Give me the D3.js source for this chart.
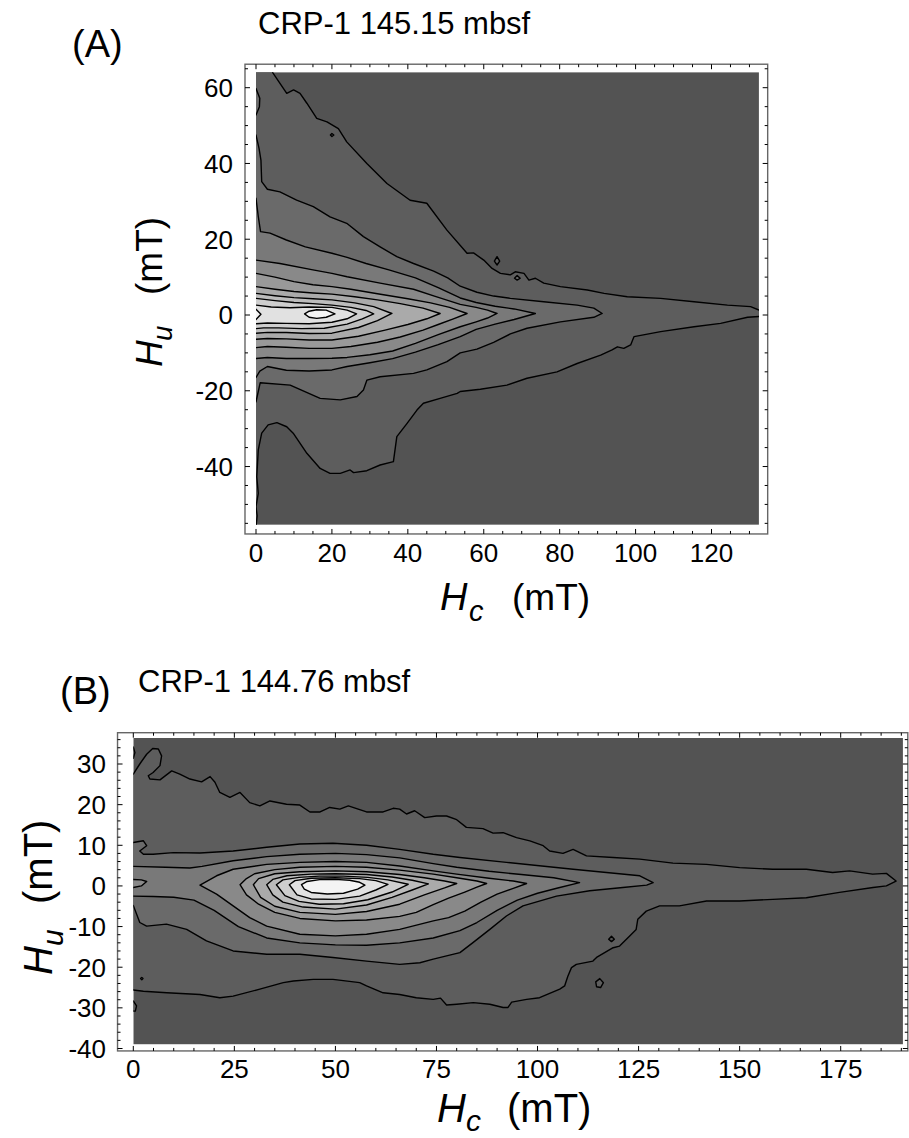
<!DOCTYPE html>
<html><head><meta charset="utf-8">
<script src="https://cdn.jsdelivr.net/npm/d3@7"></script>
<style>
body{margin:0;background:#fff}
svg{display:block}
text{font-family:"Liberation Sans",Arial,Helvetica,sans-serif;fill:#000}
</style>
</head><body>
<svg id="chart" width="909" height="1138"></svg>
<script>
// ---------------- DATA ----------------
// Panel A: CRP-1 145.15 mbsf ; contour polygons [Hc (mT), Hu (mT)], outer -> inner
const A_xTicks = [0,20,40,60,80,100,120];
const A_yTicks = [-40,-20,0,20,40,60];
const A_c1 = [[-3,70],[4.6,70],[4.4,64],[8.1,58.5],[9.9,59.4],[11.6,58.5],[13.4,55.9],[16,51.9],[18.7,51],[21.7,49.2],[23.9,45.7],[29.2,40],[34.5,34.7],[40.6,30.3],[45,29.5],[50.3,22.4],[55.6,16.3],[57.3,16.4],[60,14.5],[62.2,12.3],[64.4,11],[67,10.6],[68.3,11.4],[70.6,11],[71.9,9.2],[73.6,9.7],[75.8,8.4],[80.2,7.5],[87.3,6.6],[91.7,5.7],[97.8,4.8],[106.6,4.4],[115.4,3.5],[124.2,2.6],[130.3,2.2],[132.5,1.3],[136,1.3],[136,-0.4],[132.5,-0.4],[129.5,-0.6],[122.4,-2.2],[115.4,-3.1],[106.6,-4.4],[99.6,-5.7],[98.7,-7.9],[96.9,-8.8],[95.2,-8.4],[93.8,-9.2],[90.8,-10.6],[84.6,-12.8],[79.3,-15],[71.4,-16.7],[66.1,-18.5],[59.1,-19.6],[53.8,-20.2],[53,-20.7],[48.5,-22],[44.1,-23.3],[42.4,-25.1],[39.8,-28.6],[37.1,-32.1],[36.2,-38.7],[32.7,-39.6],[29.2,-41.1],[25.7,-41.6],[24.8,-40.9],[22.2,-41.8],[19.5,-41.8],[16.9,-40.5],[13.4,-36.5],[9.8,-31.2],[8.1,-29.5],[5.5,-28.4],[3.2,-29],[1.5,-31.2],[0.6,-35.6],[0.2,-42.7],[0.6,-47.1],[0,-50.6],[0.3,-53],[-0.2,-58],[-3,-58]];
const A_c2 = [[-3,47.5],[0,47.5],[0.8,44],[1.3,40.9],[1.5,35.2],[3,33.2],[6.3,32.5],[10.7,30.3],[15.1,28.6],[19.5,25.9],[23.9,24.2],[28.3,20.7],[32.7,18],[37.1,15.4],[41.5,13.6],[46.8,11.6],[50.5,9.8],[53.8,7.6],[58.2,6],[62.6,5],[67,4.4],[75.8,3.5],[84.6,2.6],[89,1.8],[91.2,0.4],[89,-0.6],[80.2,-1.8],[71.4,-3.5],[67,-5],[62.6,-7.2],[58.2,-9],[53.8,-10],[50.3,-12.3],[45,-14.5],[41.5,-15.4],[32.7,-16.3],[29.2,-17.2],[28.3,-19.8],[26.6,-21.5],[22.2,-22.4],[16.9,-22],[9,-18.5],[1.1,-17.9],[0,-22.9],[-3,-22.9]];
const A_c3 = [[-3,30.8],[0,30.8],[0.6,26],[1.2,22],[3.7,21.6],[8,19.8],[13,18],[20,16.3],[24,15.2],[29,13.6],[35,11.9],[42,9.8],[48,7.2],[53.8,4.5],[58,3.3],[63,2.3],[68,1.6],[73.6,0.4],[68,-1.2],[63,-2.4],[58,-3.8],[53.8,-5.7],[48,-7.8],[42,-9.8],[36,-11.5],[30,-12.6],[24,-13.6],[20,-14.5],[14,-14.8],[8,-14.6],[3,-13.6],[1,-14.8],[0,-16.5],[-3,-16.5]];
const A_c4 = [[-3,14.5],[0,14.5],[6.3,13.6],[15,11.9],[20,11],[24,10.1],[32.7,8.4],[41.5,6.8],[47,5],[53.8,2.8],[58,2],[61,1.3],[63.5,0.4],[61,-0.8],[58,-1.8],[53.8,-3.1],[48,-5.2],[42,-7.5],[36,-9.5],[30,-10.5],[24,-11.2],[20,-11.4],[14,-11.5],[8,-11.5],[3,-11.2],[0,-11.5],[-3,-11.5]];
const A_c5 = [[-3,11],[0,11],[5,10],[10,8.8],[15,8],[20,7.5],[25,6.8],[32,5.6],[40,4.3],[46,3.2],[51,2],[55.6,0.4],[52,-1],[48,-2.5],[44,-4],[38,-5.8],[32,-7.2],[25,-8.3],[20,-8.8],[14,-8.8],[8,-8.5],[3,-8.3],[0,-8.6],[-3,-8.6]];
const A_c6 = [[-3,7.5],[0,7.5],[5,6.8],[10,6.2],[15,5.8],[20,5.5],[26,4.8],[32,4],[38,3],[44,1.8],[48.5,0.4],[45,-1],[40,-2.5],[34,-4],[27,-5.6],[20,-6.6],[14,-6.6],[8,-6.3],[3,-6.2],[0,-6.4],[-3,-6.4]];
const A_c7 = [[-3,5.7],[0,5.7],[5,5.1],[10,4.6],[15,4.3],[20,4],[26,3.2],[31,2.2],[35.8,0.4],[32,-1.5],[27,-3.3],[20,-4.8],[14,-4.9],[8,-4.6],[3,-4.6],[0,-4.8],[-3,-4.8]];
const A_c8 = [[-3,4.4],[0,4.4],[5,3.8],[10,3.3],[15,3],[20,2.6],[25,2],[29,1.2],[31,0.3],[28,-1],[24,-2.4],[18,-3.5],[12,-3.6],[6,-3.4],[2,-3.4],[0,-3.6],[-3,-3.6]];
const A_c9 = [[-3,2.6],[0,2.6],[4,2.1],[9,1.9],[14,2.1],[20,2],[24,1.3],[26.5,0.3],[24,-1],[20,-1.9],[14,-2.3],[8,-2.2],[3,-2.1],[0,-2.3],[-3,-2.3]];
const A_c10 = [[12.8,0.3],[14,1],[16,1.4],[18.5,1.3],[20.8,0.3],[18.5,-0.6],[16,-0.9],[14,-0.6]];
const A_edgeNotch = [[-3,1.5],[0,1.5],[1.3,0.2],[0,-1.2],[-3,-1.2]];
const A_islandTop = [[-3,59.8],[0,59.8],[1,57.2],[0.9,55],[0,52.8],[-3,52.8]];
const A_dot = [[19.6,47.5],[20,47.9],[20.5,47.5],[20,47.1]];
const A_isl1 = [[62.8,14.2],[63.5,15.4],[64.2,14.2],[63.5,13.2]];
const A_isl2 = [[68.1,9.7],[68.8,10.4],[69.6,9.7],[68.8,9.2]];

// Panel B: CRP-1 144.76 mbsf
const B_xTicks = [0,25,50,75,100,125,150,175];
const B_yTicks = [-40,-30,-20,-10,0,10,20,30];
const B_c1 = [[-4,27.5],[0,27.5],[1.6,30],[3.3,32.4],[4.8,33.8],[6.2,33.7],[7,32],[6.6,29.6],[4.9,27.9],[3.7,27.1],[4.1,26.3],[6.6,26.1],[9.5,28.3],[11.5,27.5],[14,26.3],[16.9,25.6],[19,26.9],[20.2,25.5],[21.4,23],[23.9,21.8],[26.4,23],[28.8,20.5],[31.3,19.7],[33.8,20.9],[37.9,20.1],[41.2,19.9],[43.7,18.2],[46.2,18.2],[48.6,19.3],[51.1,18.9],[53.2,19.7],[57.7,18.2],[61.8,18.2],[64.3,19.1],[65.9,18.9],[67.6,17.7],[69.6,18.5],[72.1,16.8],[75,17.2],[77.5,17.2],[80,16.3],[82.4,14.4],[86.5,14.1],[89,13],[91.5,13.1],[94.8,11.9],[98.1,11.1],[101.4,9.9],[103,8.6],[106.3,8],[108.8,9],[112.1,7.4],[118.7,7],[125.3,6.6],[133.5,5.6],[141.8,5.3],[150,4.5],[158.2,4.1],[166.5,4.1],[173,3.3],[177.2,3.7],[182.9,2.9],[186.3,3.1],[188.7,1.2],[186.3,0],[183,-0.4],[174.7,-1.6],[166.5,-2.9],[158.2,-3.3],[150,-3.7],[141.8,-3.7],[135.1,-4.9],[130.2,-4.9],[126.9,-6.2],[124.8,-8.2],[124.4,-10.7],[122.8,-12.3],[120.3,-14.8],[118.7,-15.2],[114.6,-17.6],[113.7,-18.5],[109.6,-19.3],[108.4,-20.1],[107.5,-22.2],[106.7,-24.6],[105.5,-25.4],[100.5,-27.5],[97.3,-27.9],[93.6,-28.6],[92.7,-29.9],[91.5,-29.9],[88.2,-29.1],[84.1,-28.7],[80,-29.1],[77.5,-29.3],[76,-27.6],[74.2,-27.9],[70,-27.5],[65.9,-26.7],[61.8,-26.3],[57.7,-24.6],[56,-23.8],[49.4,-23],[44.5,-23],[39.6,-23.4],[37.1,-23.8],[31.3,-25.4],[24.7,-27.1],[21.4,-27.5],[16.5,-26.7],[8.3,-26.3],[2.5,-25.9],[0,-25.6],[-4,-25.6]];
const B_c2 = [[-4,10.7],[0,10.7],[2.5,11.1],[3.3,9.9],[1.6,8.6],[2.5,7.8],[4.9,7.8],[9.9,8.2],[16.5,8.1],[24.7,8.6],[33,9.5],[41.2,10.3],[49.4,10.5],[57.7,10],[65.9,9],[74.2,7.8],[80.8,7],[92.3,5.8],[108.8,4.1],[125.3,2.5],[128.6,0.8],[127,0.2],[121.1,-0.4],[112.9,-1.2],[104.7,-2.5],[96.4,-4.9],[92.3,-7.4],[88.2,-10.7],[84.1,-13.9],[80.8,-16.4],[74.2,-18],[70.9,-18.9],[65.9,-19.3],[57.7,-18.5],[49.4,-17.6],[41.2,-16.8],[33,-16.8],[24.7,-16],[18.1,-13.5],[13.2,-10.7],[8.2,-9.4],[3.3,-9.9],[1.6,-9],[0,-4.8],[-4,-4.8]];
const B_c3 = [[-4,4.8],[0,4.8],[8,4.6],[14,4.4],[17,4.8],[24.7,6.2],[33,7.2],[41.2,7.8],[50,8],[57.7,7.7],[65.9,6.9],[74.2,5.5],[80,4.6],[88,3.6],[96,2.8],[104,2],[110.4,0.8],[105,-0.5],[100,-1.8],[95,-3.5],[90,-6],[85,-9],[80.8,-11],[74.2,-12.8],[65.9,-14],[57.7,-14.6],[50,-14.5],[41.2,-14],[33,-12.8],[26,-10],[20,-6],[15,-3.5],[10,-2.8],[5,-2.6],[0,-2.5],[-4,-2.5]];
const B_c4 = [[16.5,0.2],[20.6,2.5],[24.7,4.1],[33,5.3],[41.2,5.8],[50,6],[57.7,5.8],[65.9,4.9],[74.2,3.7],[80,2.9],[88,1.9],[94,1.2],[97.3,0.6],[94,-0.6],[90,-2],[86,-4],[82,-6.2],[78,-7.8],[74.2,-8.6],[65.9,-10.7],[57.7,-11.9],[50,-12.3],[41.2,-11.9],[33,-9.9],[28.8,-7.8],[24.7,-4.9],[20.6,-2]];
const B_c5 = [[26.4,0.3],[28,1.8],[30,3],[35,4],[41.2,4.6],[50,4.8],[57.7,4.6],[65.9,3.9],[74.2,2.9],[80,2],[85,1.2],[87.4,0.6],[85,-0.3],[82,-1.5],[78,-3],[74.2,-4.6],[70,-6.5],[65.9,-7.5],[57.7,-8.4],[50,-8.6],[41.2,-8],[35,-6.5],[31,-4.5],[28,-2.2]];
const B_c6 = [[29.7,0.3],[31,1.8],[35,3],[41.2,3.5],[50,3.7],[57.7,3.5],[65.9,2.8],[72,2],[77,1.2],[80,0.6],[77,-0.5],[72,-2.2],[65.9,-4.5],[57.7,-6.3],[50,-7],[41.2,-6.5],[35,-5],[31.5,-2.8]];
const B_c7 = [[33,0.3],[34.5,1.6],[38,2.5],[44,2.9],[50,3],[57.7,2.8],[64,2.2],[69,1.4],[73,0.5],[69,-1],[64,-2.8],[57.7,-4.7],[50,-5.7],[42,-5.2],[37,-4],[34.5,-2.2]];
const B_c8 = [[35.4,0.3],[37,1.5],[41,2.1],[46,2.4],[52,2.4],[58,2.1],[63,1.5],[68,0.4],[64,-1.5],[58,-3.4],[52,-4.4],[46,-4.5],[41,-3.8],[37.5,-2.4]];
const B_c9 = [[38.6,0.3],[40,1.3],[44,1.9],[50,2],[56,1.8],[60,1.3],[63,0.4],[60,-1],[56,-2.5],[50,-3.3],[44,-3.2],[40.5,-2.2]];
const B_c10 = [[41.6,0.3],[43,1.1],[46.5,1.6],[50,1.6],[53.5,1.4],[56,0.9],[57.3,0.2],[55.5,-0.8],[52,-1.8],[48,-2],[44,-1.6],[42.3,-0.8]];
const B_islandTop = [[-4,34.2],[0,34.2],[0.4,32.8],[0,31.4],[-4,31.4]];
const B_islandBot = [[-4,-28.3],[0,-28.3],[0.8,-29.5],[0.5,-30.8],[-4,-30.8]];
const B_edgeBlob = [[-4,1.6],[0,1.6],[2,1.5],[3.3,1.1],[2,0],[0,-0.4],[-4,-0.4]];
const B_dot = [[1.8,-22.8],[2.1,-22.5],[2.4,-22.8],[2.1,-23.1]];
const B_isl1 = [[117.6,-13.1],[118.3,-12.4],[119,-13.1],[118.3,-13.7]];
const B_isl2 = [[114.4,-23.6],[115.4,-22.8],[116.3,-23.8],[115.6,-25],[114.6,-24.8]];

// ---------------- DRAWING ----------------
const svg = d3.select("#chart");
const shade = d3.scalePow().exponent(1.2).domain([0,10]).range([83,244]);
const gray = l => { const v = Math.round(shade(l)); return `rgb(${v},${v},${v})`; };

function panel(cfg){
  const {x, y, data, frame, xTicks, yTicks, xMinor, yMinor, layers, id} = cfg;
  const g = svg.append("g");
  g.append("clipPath").attr("id", id).append("rect")
    .attr("x", x(data[0])).attr("y", y(data[3]))
    .attr("width", x(data[1]) - x(data[0])).attr("height", y(data[2]) - y(data[3]));
  const plot = g.append("g").attr("clip-path", `url(#${id})`);
  plot.append("rect")
    .attr("x", x(data[0])).attr("y", y(data[3]))
    .attr("width", x(data[1]) - x(data[0])).attr("height", y(data[2]) - y(data[3]))
    .attr("fill", gray(0));
  const line = d3.line().x(d => x(d[0])).y(d => y(d[1])).curve(d3.curveLinearClosed);
  layers.forEach(L => {
    plot.append("path").attr("d", line(L.pts)).attr("fill", gray(L.level))
      .attr("stroke", "#000").attr("stroke-width", 1.4).attr("stroke-linejoin", "round");
  });
  // frame
  const fx0 = x(frame[0]), fx1 = x(frame[1]), fy0 = y(frame[3]), fy1 = y(frame[2]);
  g.append("rect").attr("x", fx0).attr("y", fy0).attr("width", fx1 - fx0).attr("height", fy1 - fy0)
    .attr("fill", "none").attr("stroke", "#666").attr("stroke-width", 1.4);
  const tk = g.append("g").attr("stroke", "#000").attr("stroke-width", 1);
  const majX = new Set(xTicks), majY = new Set(yTicks);
  xMinor.forEach(v => {
    const L = majX.has(v) ? 5 : 3, px = x(v);
    tk.append("line").attr("x1", px).attr("x2", px).attr("y1", fy1).attr("y2", fy1 - L);
    tk.append("line").attr("x1", px).attr("x2", px).attr("y1", fy0).attr("y2", fy0 + L);
  });
  yMinor.forEach(v => {
    const L = majY.has(v) ? 5 : 3, py = y(v);
    tk.append("line").attr("y1", py).attr("y2", py).attr("x1", fx0).attr("x2", fx0 + L);
    tk.append("line").attr("y1", py).attr("y2", py).attr("x1", fx1).attr("x2", fx1 - L);
  });
  g.selectAll(".xl").data(xTicks).enter().append("text")
    .attr("x", d => x(d)).attr("y", cfg.xLabelY).attr("text-anchor", "middle")
    .attr("font-size", cfg.tickFont).text(d => d);
  g.selectAll(".yl").data(yTicks).enter().append("text")
    .attr("x", cfg.yLabelX).attr("y", d => y(d) + cfg.tickFont * 0.36).attr("text-anchor", "end")
    .attr("font-size", cfg.tickFont).text(d => d);
  return g;
}

const xA = d3.scaleLinear().domain([0,120]).range([256,711.5]);
const yA = d3.scaleLinear().domain([0,60]).range([315,87.7]);
panel({
  id: "clipA", x: xA, y: yA,
  data: [0,132.5,-55.4,64.1], frame: [-2.9,134.8,-57.8,66.2],
  xTicks: A_xTicks, yTicks: A_yTicks,
  xMinor: d3.range(0,131,5), yMinor: d3.range(-55,66,5),
  xLabelY: 562, yLabelX: 233, tickFont: 26,
  layers: [
    {pts:A_c1, level:1}, {pts:A_islandTop, level:2}, {pts:A_dot, level:2},
    {pts:A_isl1, level:1}, {pts:A_isl2, level:2},
    {pts:A_c2, level:2}, {pts:A_c3, level:3}, {pts:A_c4, level:4}, {pts:A_c5, level:5},
    {pts:A_c6, level:6}, {pts:A_c7, level:7}, {pts:A_c8, level:8}, {pts:A_c9, level:9},
    {pts:A_edgeNotch, level:10}, {pts:A_c10, level:10}
  ]
});

const xB = d3.scaleLinear().domain([0,175]).range([133.3,840.7]);
const yB = d3.scaleLinear().domain([-40,30]).range([1048.5,764]);
panel({
  id: "clipB", x: xB, y: yB,
  data: [0,190.4,-39,36.4], frame: [-3.9,191.6,-40.6,37.7],
  xTicks: B_xTicks, yTicks: B_yTicks,
  xMinor: d3.range(0,191,5), yMinor: d3.range(-40,37,2),
  xLabelY: 1078, yLabelX: 106, tickFont: 26,
  layers: [
    {pts:B_c1, level:1}, {pts:B_islandTop, level:1}, {pts:B_islandBot, level:1},
    {pts:B_isl2, level:1}, {pts:B_dot, level:0}, {pts:B_isl1, level:0},
    {pts:B_c2, level:2}, {pts:B_c3, level:3}, {pts:B_edgeBlob, level:4}, {pts:B_c4, level:4},
    {pts:B_c5, level:5}, {pts:B_c6, level:6}, {pts:B_c7, level:7}, {pts:B_c8, level:8},
    {pts:B_c9, level:9}, {pts:B_c10, level:10}
  ]
});

// ---------------- TEXT ----------------
function t(x, y, s, size, style){
  return svg.append("text").attr("x", x).attr("y", y).attr("font-size", size)
    .attr("font-style", style || "normal").text(s);
}
t(72, 57, "(A)", 38);
t(258, 34, "CRP-1 145.15 mbsf", 31);
t(60, 704, "(B)", 38);
t(138, 692, "CRP-1 144.76 mbsf", 31);

// x axis titles
t(440, 610, "H", 38, "italic"); t(469, 621, "c", 29, "italic"); t(512, 610, "(mT)", 37);
t(437, 1122, "H", 40, "italic"); t(466, 1131, "c", 30, "italic"); t(507, 1122, "(mT)", 40);

// y axis titles (rotated)
function ytitle(x0, y0, size, sub, gapSub, gapUnit){
  const g = svg.append("g").attr("transform", `translate(${x0},${y0}) rotate(-90)`);
  g.append("text").attr("x", 0).attr("y", 0).attr("font-size", size).attr("font-style", "italic").text("H");
  g.append("text").attr("x", gapSub).attr("y", size * 0.27).attr("font-size", size * 0.75).attr("font-style", "italic").text(sub);
  g.append("text").attr("x", gapUnit).attr("y", 0).attr("font-size", size).text("(mT)");
}
ytitle(162, 367, 37, "u", 26, 72);
ytitle(52, 975, 40, "u", 29, 71);
</script>
</body></html>
